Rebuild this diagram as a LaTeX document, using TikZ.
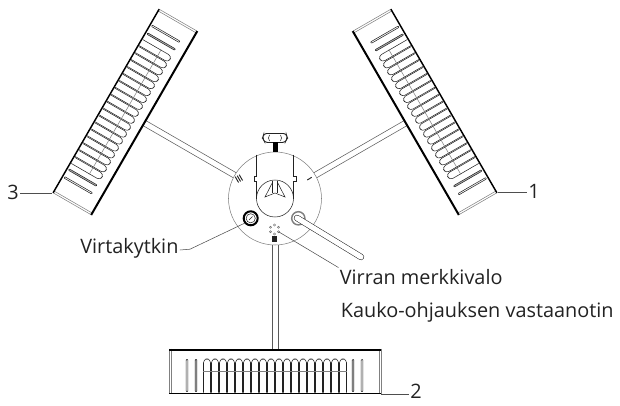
\documentclass[tikz,border=0pt]{standalone}
\usepackage{fontspec}
\setmainfont{Open Sans}
\definecolor{ink}{HTML}{222222}
\tikzset{
  thinline/.style={ink, line width=0.4pt},
  softline/.style={gray, line width=0.4pt},
  leader/.style={ink!80, line width=0.4pt},
  lbl/.style={text=ink, font=\fontsize{14.9}{18}\selectfont, inner sep=0pt, outer sep=1pt},
}
% one heater, drawn below the hub; the origin is the hub centre
\newcommand{\heater}{
  \draw[softline, ink!75] (-2.9,46.5) -- (-2.9,150.5);
  \draw[softline, ink!75] (2.9,46.5) -- (2.9,150.5);
  \draw[softline] (-106,150) -- (-106,195.5);
  \draw[softline] (-104,150) -- (-104,195.5);
  \draw[softline] (106,150) -- (106,195.5);
  \draw[softline] (104,150) -- (104,195.5);
  \draw[black, line width=1.5pt] (-106,151) -- (106,151);
  \draw[black, line width=1.1pt] (-106,195) -- (106,195);
  \foreach \i in {0,...,17}{
    \draw[thinline, rounded corners=2.7pt] (-71.5+8*\i,194) -- (-71.5+8*\i,160.5) -- (-64.5+8*\i,160.5) -- (-64.5+8*\i,194);
  }
  \draw[softline] (-72,173) -- (72,173);
  \draw[thinline, rounded corners=0.5pt] (-88.8,193) rectangle (-87.2,161);
  \draw[thinline, rounded corners=0.5pt, fill=gray!60] (-79.8,193) rectangle (-78.2,161);
  \draw[thinline, rounded corners=0.5pt, fill=gray!60] (77.2,193) rectangle (78.8,161);
  \draw[thinline, rounded corners=0.5pt] (86.2,193) rectangle (87.8,161);
}
\begin{document}
\begin{tikzpicture}[x=0.75pt, y=-0.75pt]
  \useasboundingbox (0,0) rectangle (620,406);

  \foreach \a in {0,120,-120}{
    \begin{scope}[shift={(275,198.5)}, rotate=\a]
      \heater
    \end{scope}
  }

  \draw[softline] (275,198.5) circle (46.5);

  % knob
  \draw[ink, line width=0.7pt, rounded corners=2pt] (264,133.5) -- (286,133.5) -- (287.5,138) -- (285,142.5) -- (265,142.5) -- (262.5,138) -- cycle;
  \draw[thinline] (269.5,135) -- (268.5,138) -- (269.5,141);
  \draw[thinline] (280.5,135) -- (281.5,138) -- (280.5,141);
  \fill[black] (272.5,142) rectangle (277.5,152);

  % body
  \draw[thinline] (256.5,154.5) -- (256.5,176) -- (254,176) -- (254,181) -- (256.5,181) -- (256.5,198.5);
  \draw[thinline] (293.5,154.5) -- (293.5,176) -- (296,176) -- (296,181) -- (293.5,181) -- (293.5,198.5);
  \draw[thinline] (275,198.5) circle (18.5);
  \draw[thinline] (272.7,181) -- (272.7,193);
  \draw[thinline] (277.3,181) -- (277.3,193);
  \draw[thinline] (272.7,182) -- (265,197) -- (275,193) -- (285,197) -- (277.3,182);

  % marks
  \draw[ink, line width=0.7pt] (237.2,175.7) -- (240.6,181.5);
  \draw[ink, line width=0.7pt] (239.2,174.7) -- (242.6,180.5);
  \draw[ink, line width=0.7pt] (235.2,176.7) -- (238.6,182.5);
  \draw[ink, line width=0.7pt] (307.3,180) -- (311.7,177.3);
  \fill[ink] (272.3,235.7) rectangle (276.7,241.7);
  \foreach \b in {30,90,150,210,270,330}{
    \draw[softline, ink!70, line width=0.3pt] (274.5,229.5) ++(\b:4.5) circle (1.1);
  }

  % switch
  \draw[black, line width=1.5pt] (250.7,218.3) circle (7);
  \draw[thinline] (250.7,218.3) circle (4.6);
  \draw[thinline] (249,220) -- (252.5,216.5);

  % receiver
  \draw[softline, line width=1.1pt] (298.3,218.3) circle (6.6);
  \draw[ink, line width=4.7pt, line cap=round] (297,218) -- (361,257);
  \draw[white, line width=3.9pt, line cap=round] (297,218) -- (361,257);

  % labels
  \coordinate (corner1) at (498,192.5);
  \coordinate (corner2) at (381,394);
  \coordinate (corner3) at (52,193);
  \coordinate (switch) at (245,223);
  \coordinate (lamp) at (279,232);
  \coordinate (bend) at (190,249.2);
  \node[lbl, anchor=west] (num1) at (527,191) {1};
  \node[lbl, anchor=west] (num2) at (409,391.5) {2};
  \node[lbl, anchor=east] (num3) at (20,192) {3};
  \node[lbl, anchor=base west] (power) at (79,253) {Virtakytkin};
  \node[lbl, anchor=base west] (light) at (338.5,284) {Virran merkkivalo};
  \node[lbl, anchor=base west] (remote) at (339.5,317) {Kauko-ohjauksen vastaanotin};
  \draw[leader] (corner1) -- (num1.west |- corner1);
  \draw[leader] (corner2) -- (num2.west |- corner2);
  \draw[leader] (corner3) -- (num3.east |- corner3);
  \draw[leader] (switch) -- (bend) -- (power.east |- 0,250);
  \draw[leader] (lamp) -- (light.north west);
\end{tikzpicture}
\end{document}
